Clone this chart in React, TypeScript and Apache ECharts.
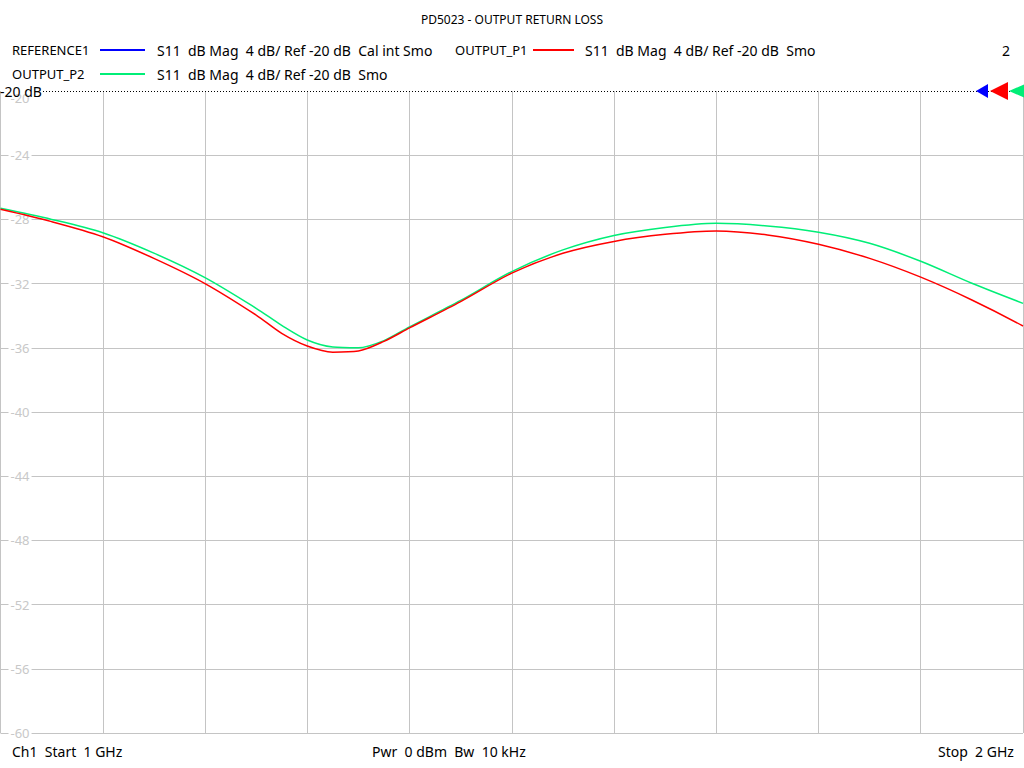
import React, { useEffect, useRef } from "react";
import * as echarts from "echarts";

const freqs = [1.0, 1.05, 1.1, 1.15, 1.2, 1.25, 1.275, 1.3, 1.325, 1.35, 1.375, 1.4, 1.45, 1.5, 1.55, 1.6, 1.65, 1.7, 1.75, 1.8, 1.85, 1.9, 1.95, 2.0];
const outputP2 = [-27.31, -28.0, -28.83, -30.1, -31.63, -33.54, -34.6, -35.51, -35.95, -36.0, -35.55, -34.7, -33.05, -31.25, -29.9, -29.0, -28.5, -28.24, -28.41, -28.8, -29.49, -30.61, -31.98, -33.23];
const outputP1 = [-27.37, -28.14, -29.08, -30.43, -32.0, -33.96, -35.1, -35.89, -36.27, -36.2, -35.6, -34.76, -33.12, -31.35, -30.11, -29.37, -28.93, -28.72, -28.97, -29.55, -30.43, -31.6, -33.02, -34.64];
const yTicks = { min: -60, max: -20, step: 4 };
const xTicks = { min: 1, max: 2, step: 0.1 };

const titleText = "PD5023 - OUTPUT RETURN LOSS";
const legendRows = [
  { name: "REFERENCE1", color: "#0000ff", desc: "S11  dB Mag  4 dB/ Ref -20 dB  Cal int Smo", x: 12, y: 50 },
  { name: "OUTPUT_P1", color: "#ff0000", desc: "S11  dB Mag  4 dB/ Ref -20 dB  Smo", x: 455, y: 50 },
  { name: "OUTPUT_P2", color: "#00ee77", desc: "S11  dB Mag  4 dB/ Ref -20 dB  Smo", x: 12, y: 74 },
];
const footer = ["Ch1  Start  1 GHz", "Pwr  0 dBm  Bw  10 kHz", "Stop  2 GHz"];

const FONT = "'Noto Sans', sans-serif";

export default function App() {
  const ref = useRef<HTMLDivElement>(null);
  useEffect(() => {
    document.body.style.margin = "0";
    const chart = echarts.init(ref.current!, null, { renderer: "svg" });
    const graphics: any[] = [];
    graphics.push({
      type: "text", left: "center", top: 13,
      style: { text: titleText, fontSize: 12, fontFamily: FONT, fill: "#000" },
    });
    legendRows.forEach((r, i) => {
      const lineX = i === 1 ? 533 : 100;
      const lineW = i === 1 ? 41 : 45;
      const descX = i === 1 ? 585 : 157;
      graphics.push({ type: "text", x: r.x, y: r.y, style: { text: r.name, fontSize: 13, fontFamily: FONT, fill: "#000", verticalAlign: "middle" } });
      graphics.push({ type: "line", shape: { x1: lineX, y1: r.y, x2: lineX + lineW, y2: r.y }, style: { stroke: r.color, lineWidth: 2 } });
      graphics.push({ type: "text", x: descX, y: r.y, style: { text: r.desc, fontSize: 14, fontFamily: FONT, fill: "#000", verticalAlign: "middle" } });
    });
    graphics.push({ type: "text", x: 1002, y: 50, style: { text: "2", fontSize: 14, fontFamily: FONT, fill: "#000", verticalAlign: "middle" } });
    graphics.push({ type: "line", z: 50, shape: { x1: 43, y1: 91.5, x2: 1024, y2: 91.5 }, style: { stroke: "#000", lineWidth: 1, lineDash: [1, 2] } });
    graphics.push({ type: "text", z: 60, x: 0, y: 91, style: { text: "-20 dB", fontSize: 14, fontFamily: FONT, fill: "#000", verticalAlign: "middle" } });
    graphics.push({ type: "polygon", z: 70, shape: { points: [[976, 91], [988, 84], [988, 98]] }, style: { fill: "#0000ff" } });
    graphics.push({ type: "polygon", z: 70, shape: { points: [[990, 91], [1008, 82], [1008, 100]] }, style: { fill: "#ff0000" } });
    graphics.push({ type: "polygon", z: 70, shape: { points: [[1009, 91], [1025, 84], [1025, 98]] }, style: { fill: "#00ee77" } });
    const footX = [12, 372, 938];
    footer.forEach((t, i) => {
      graphics.push({ type: "text", x: footX[i], y: 751, style: { text: t, fontSize: 14, fontFamily: FONT, fill: "#000", verticalAlign: "middle" } });
    });

    chart.setOption({
      animation: false,
      backgroundColor: "#fff",
      grid: { left: 0.5, right: 1, top: 91, bottom: 35, containLabel: false },
      xAxis: {
        type: "value", min: xTicks.min, max: xTicks.max, interval: xTicks.step,
        axisLabel: { show: false }, axisLine: { show: false }, axisTick: { show: false },
        splitLine: { show: true, lineStyle: { color: "#c4c4c4", width: 1 } },
      },
      yAxis: {
        type: "value", min: yTicks.min, max: yTicks.max, interval: yTicks.step,
        axisLine: { show: false }, axisTick: { show: false },
        axisLabel: {
          inside: true, margin: 8, color: "#c8c8c8", fontSize: 13, fontFamily: FONT,
          backgroundColor: "#fff", padding: [0, 2],
          verticalAlignMaxLabel: "top",
        },
        splitLine: { show: true, showMaxLine: false, lineStyle: { color: "#c4c4c4", width: 1 } },
      },
      series: [
        { name: "REFERENCE1", type: "line", data: [], showSymbol: false, lineStyle: { color: "#0000ff" } },
        {
          name: "OUTPUT_P2", type: "line", smooth: 0.3, showSymbol: false, z: 3,
          data: freqs.map((f, i) => [f, outputP2[i]]),
          lineStyle: { color: "#00ee77", width: 1.5 }, itemStyle: { color: "#00ee77" },
        },
        {
          name: "OUTPUT_P1", type: "line", smooth: 0.3, showSymbol: false, z: 4,
          data: freqs.map((f, i) => [f, outputP1[i]]),
          lineStyle: { color: "#ff0000", width: 1.5 }, itemStyle: { color: "#ff0000" },
        },
      ],
      graphic: graphics,
    });
    return () => chart.dispose();
  }, []);
  return <div ref={ref} style={{ position: "fixed", left: 0, top: 0, width: 1024, height: 768 }} />;
}
